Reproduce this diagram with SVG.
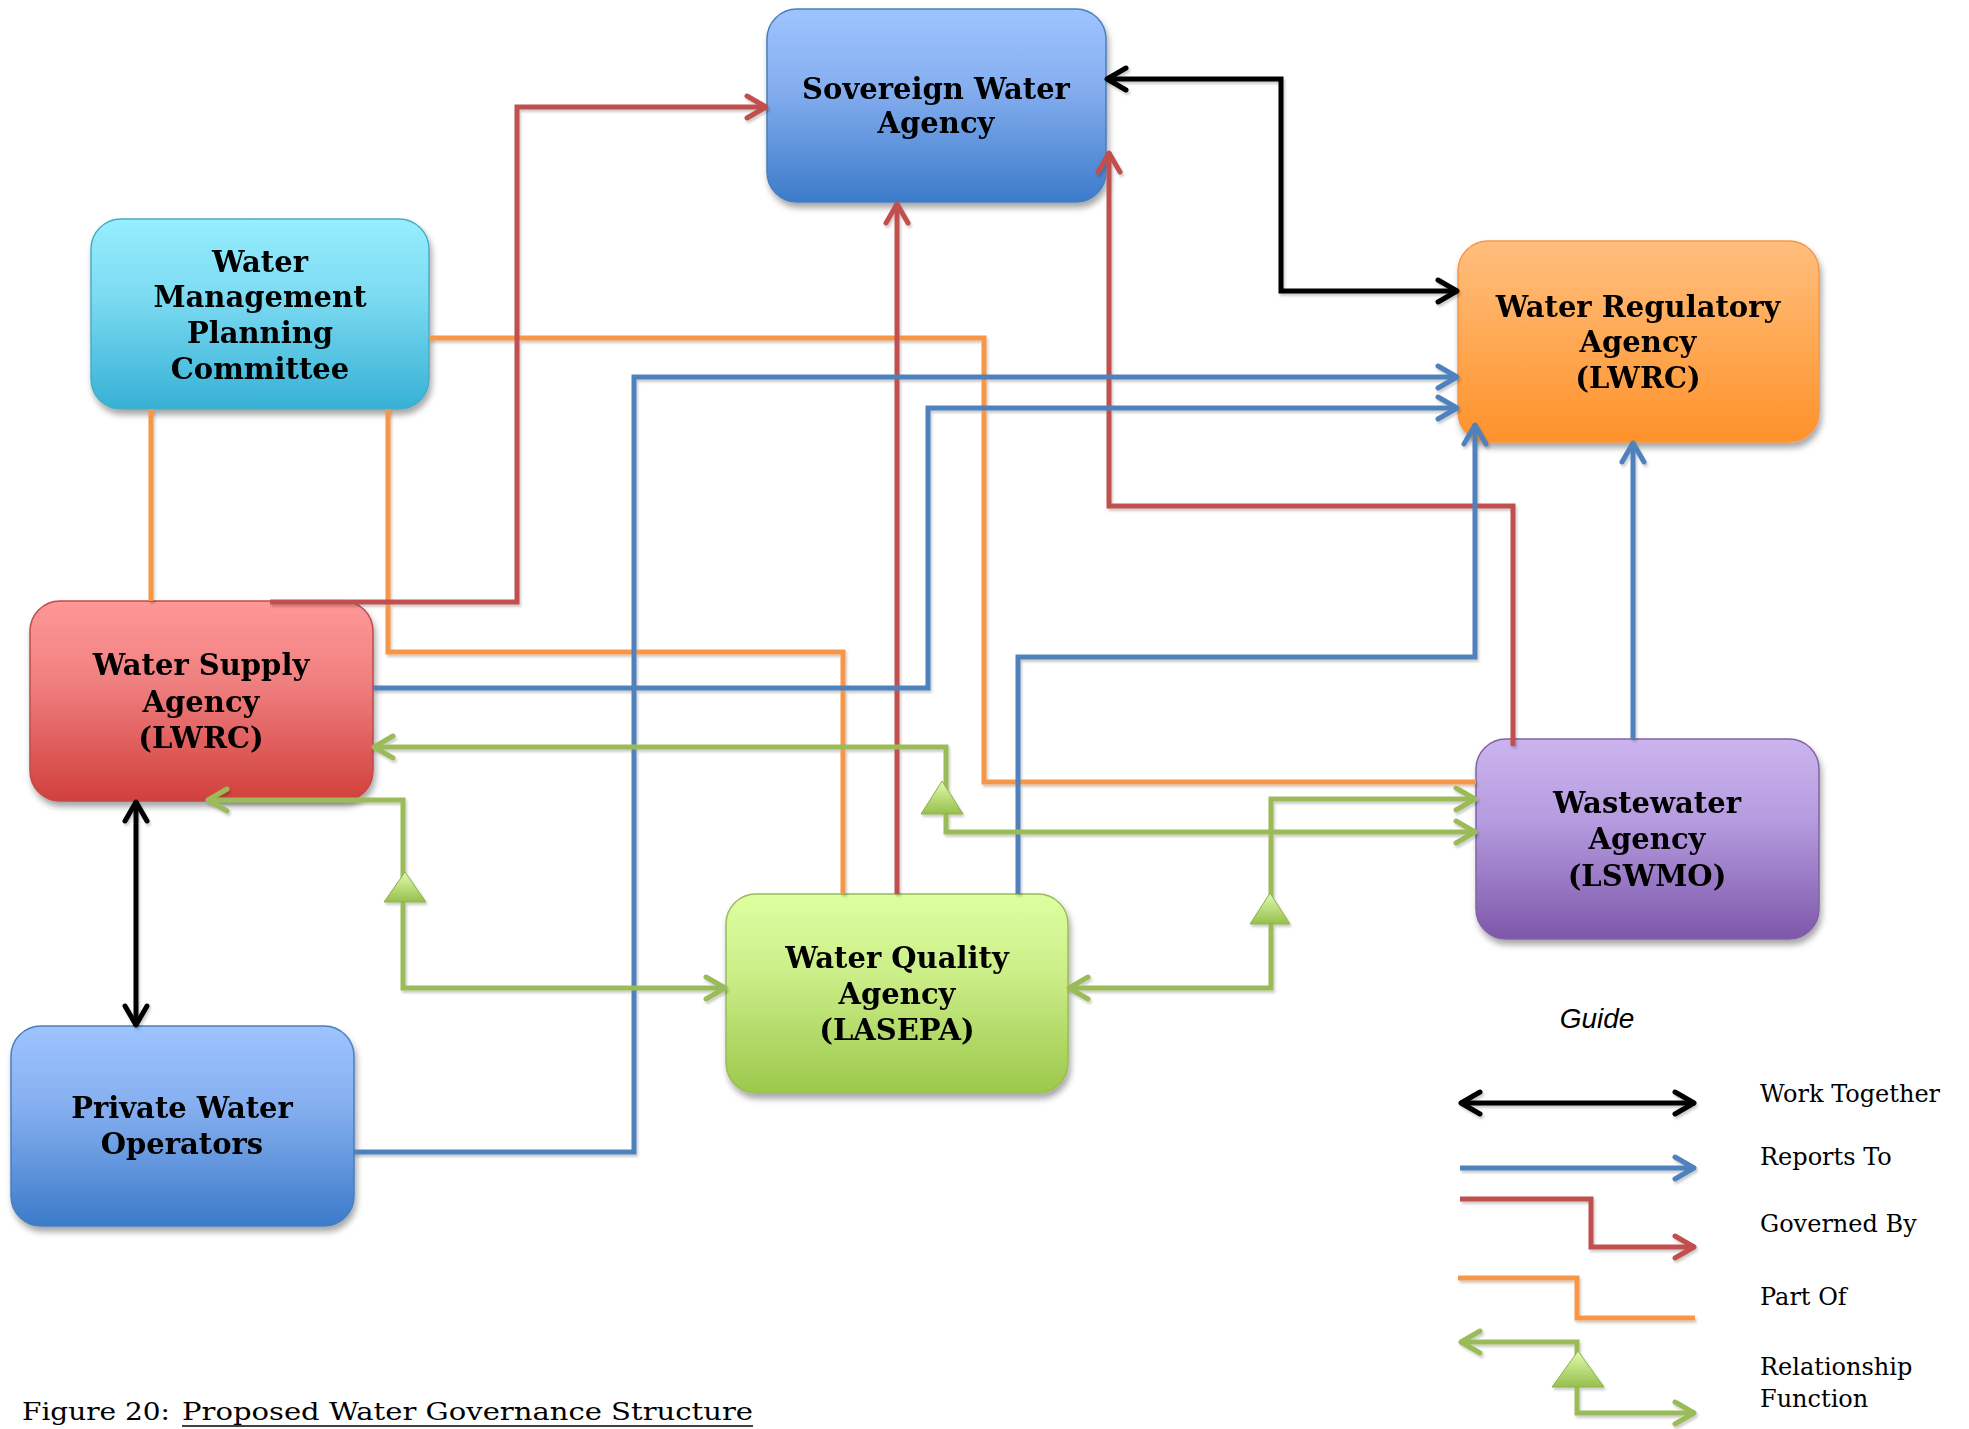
<svg xmlns="http://www.w3.org/2000/svg" width="1969" height="1429" viewBox="0 0 1969 1429">
<style>
.lbl{font-family:"DejaVu Serif","Liberation Serif",serif;font-weight:bold;font-size:29px;text-anchor:middle;fill:#000}
.leg{font-family:"DejaVu Serif","Liberation Serif",serif;font-size:24px;fill:#000}
.box{stroke-width:1.5}
.c{fill:none;stroke-width:5;stroke-linejoin:miter}
.blk{stroke:#000}
.red{stroke:#C0504D}
.blu{stroke:#4F81BD}
.org{stroke:#F79646}
.grn{stroke:#9BBB59}
.tri{fill:url(#gTri);stroke:#8DB04A;stroke-width:1}
</style>
<defs>
<filter id="sh" x="-10%" y="-10%" width="125%" height="130%">
<feDropShadow dx="2" dy="5" stdDeviation="3" flood-color="#000" flood-opacity="0.35"/>
</filter>
<filter id="lsh" x="-5%" y="-5%" width="110%" height="110%">
<feDropShadow dx="1.5" dy="2.5" stdDeviation="1.2" flood-color="#000" flood-opacity="0.2"/>
</filter>
<linearGradient id="gBlue" x1="0" y1="0" x2="0" y2="1"><stop offset="0" stop-color="#9EC4FF"/><stop offset="0.4" stop-color="#86AFF0"/><stop offset="1" stop-color="#3C7BCA"/></linearGradient>
<linearGradient id="gCyan" x1="0" y1="0" x2="0" y2="1"><stop offset="0" stop-color="#96EEFE"/><stop offset="0.4" stop-color="#7DDBF2"/><stop offset="1" stop-color="#36B1D5"/></linearGradient>
<linearGradient id="gOrg" x1="0" y1="0" x2="0" y2="1"><stop offset="0" stop-color="#FFBE7E"/><stop offset="0.4" stop-color="#FFAD5C"/><stop offset="1" stop-color="#FE922B"/></linearGradient>
<linearGradient id="gRed" x1="0" y1="0" x2="0" y2="1"><stop offset="0" stop-color="#FF9797"/><stop offset="0.4" stop-color="#F08080"/><stop offset="1" stop-color="#D1403C"/></linearGradient>
<linearGradient id="gGrn" x1="0" y1="0" x2="0" y2="1"><stop offset="0" stop-color="#DDFFA1"/><stop offset="0.4" stop-color="#CCEE88"/><stop offset="1" stop-color="#9CC84B"/></linearGradient>
<linearGradient id="gPur" x1="0" y1="0" x2="0" y2="1"><stop offset="0" stop-color="#CBB4EE"/><stop offset="0.4" stop-color="#B69CE0"/><stop offset="1" stop-color="#7D57AB"/></linearGradient>
<linearGradient id="gTri" x1="0" y1="0" x2="0" y2="1"><stop offset="0" stop-color="#E0FBAE"/><stop offset="1" stop-color="#97C04C"/></linearGradient>
<marker id="mBlk" viewBox="-25 -15 30 30" refX="0" refY="0" markerWidth="30" markerHeight="30" markerUnits="userSpaceOnUse" orient="auto-start-reverse"><path d="M-20,-11 L-1,0 L-20,11" fill="none" stroke="#000" stroke-width="5" stroke-linecap="round" stroke-linejoin="round"/></marker>
<marker id="mRed" viewBox="-25 -15 30 30" refX="0" refY="0" markerWidth="30" markerHeight="30" markerUnits="userSpaceOnUse" orient="auto-start-reverse"><path d="M-20,-11 L-1,0 L-20,11" fill="none" stroke="#C0504D" stroke-width="5" stroke-linecap="round" stroke-linejoin="round"/></marker>
<marker id="mBlu" viewBox="-25 -15 30 30" refX="0" refY="0" markerWidth="30" markerHeight="30" markerUnits="userSpaceOnUse" orient="auto-start-reverse"><path d="M-20,-11 L-1,0 L-20,11" fill="none" stroke="#4F81BD" stroke-width="5" stroke-linecap="round" stroke-linejoin="round"/></marker>
<marker id="mGrn" viewBox="-25 -15 30 30" refX="0" refY="0" markerWidth="30" markerHeight="30" markerUnits="userSpaceOnUse" orient="auto-start-reverse"><path d="M-20,-11 L-1,0 L-20,11" fill="none" stroke="#9BBB59" stroke-width="5" stroke-linecap="round" stroke-linejoin="round"/></marker>
</defs>
<rect width="1969" height="1429" fill="#fff"/>

<g id="node-sovereign" filter="url(#sh)">
<rect class="box" x="767" y="9" width="339" height="193" rx="30" fill="url(#gBlue)" stroke="#4A7EBB"/>
<text class="lbl" x="936" y="99">Sovereign Water</text>
<text class="lbl" x="936" y="133">Agency</text>
</g>
<g id="node-wmpc" filter="url(#sh)">
<rect class="box" x="91" y="219" width="338" height="190" rx="30" fill="url(#gCyan)" stroke="#4BACC6"/>
<text class="lbl" x="260" y="272">Water</text>
<text class="lbl" x="260" y="307">Management</text>
<text class="lbl" x="260" y="343">Planning</text>
<text class="lbl" x="260" y="379">Committee</text>
</g>
<g id="node-regulatory" filter="url(#sh)">
<rect class="box" x="1458" y="241" width="361" height="201" rx="30" fill="url(#gOrg)" stroke="#F79646"/>
<text class="lbl" x="1638" y="317">Water Regulatory</text>
<text class="lbl" x="1638" y="352">Agency</text>
<text class="lbl" x="1638" y="388">(LWRC)</text>
</g>
<g id="node-supply" filter="url(#sh)">
<rect class="box" x="30" y="601" width="343" height="200" rx="30" fill="url(#gRed)" stroke="#BE4B48"/>
<text class="lbl" x="201" y="675">Water Supply</text>
<text class="lbl" x="201" y="712">Agency</text>
<text class="lbl" x="201" y="748">(LWRC)</text>
</g>
<g id="node-quality" filter="url(#sh)">
<rect class="box" x="726" y="894" width="342" height="199" rx="30" fill="url(#gGrn)" stroke="#9BBB59"/>
<text class="lbl" x="897" y="968">Water Quality</text>
<text class="lbl" x="897" y="1004">Agency</text>
<text class="lbl" x="897" y="1040">(LASEPA)</text>
</g>
<g id="node-wastewater" filter="url(#sh)">
<rect class="box" x="1476" y="739" width="343" height="200" rx="30" fill="url(#gPur)" stroke="#8064A2"/>
<text class="lbl" x="1647" y="813">Wastewater</text>
<text class="lbl" x="1647" y="849">Agency</text>
<text class="lbl" x="1647" y="886">(LSWMO)</text>
</g>
<g id="node-private" filter="url(#sh)">
<rect class="box" x="11" y="1026" width="343" height="200" rx="30" fill="url(#gBlue)" stroke="#4A7EBB"/>
<text class="lbl" x="182" y="1118">Private Water</text>
<text class="lbl" x="182" y="1154">Operators</text>
</g>

<g id="connectors" filter="url(#lsh)">
<path class="c org" d="M151,409 V601"/>
<path class="c org" d="M388,409 V652 H843 V894"/>
<path class="c org" d="M429,338 H984 V782 H1476"/>
<path class="c red" d="M270,602 H517 V107 H767" marker-end="url(#mRed)"/>
<path class="c red" d="M897,894 V203" marker-end="url(#mRed)"/>
<path class="c red" d="M1513,746 V506 H1109 V152" marker-end="url(#mRed)"/>
<path class="c blu" d="M354,1152 H634 V377 H1458" marker-end="url(#mBlu)"/>
<path class="c blu" d="M373,688 H928 V408 H1458" marker-end="url(#mBlu)"/>
<path class="c blu" d="M1018,894 V657 H1475 V424" marker-end="url(#mBlu)"/>
<path class="c blu" d="M1633,739 V442" marker-end="url(#mBlu)"/>
<path class="c blk" d="M1106,79 H1281 V291 H1458" marker-start="url(#mBlk)" marker-end="url(#mBlk)"/>
<path class="c blk" d="M136,801 V1026" marker-start="url(#mBlk)" marker-end="url(#mBlk)"/>
<path class="c grn" d="M373,747 H946 V832 H1476" marker-start="url(#mGrn)" marker-end="url(#mGrn)"/>
<path class="c grn" d="M207,800 H403 V988 H726" marker-start="url(#mGrn)" marker-end="url(#mGrn)"/>
<path class="c grn" d="M1068,988 H1271 V799 H1476" marker-start="url(#mGrn)" marker-end="url(#mGrn)"/>
<path class="tri" d="M942,781 L963,814 L921,814 Z"/>
<path class="tri" d="M405,872 L426,902 L384,902 Z"/>
<path class="tri" d="M1270,893 L1290,924 L1250,924 Z"/>
</g>

<g id="legend">
<text x="1597" y="1028" font-family="'Liberation Sans',Arial,sans-serif" font-style="italic" font-size="28" text-anchor="middle">Guide</text>
<g filter="url(#lsh)">
<path class="c blk" d="M1460,1103 H1695" marker-start="url(#mBlk)" marker-end="url(#mBlk)"/>
<path class="c blu" d="M1460,1168 H1695" marker-end="url(#mBlu)"/>
<path class="c red" d="M1460,1199 H1591 V1247 H1695" marker-end="url(#mRed)"/>
<path class="c org" d="M1458,1278 H1577 V1318 H1695"/>
<path class="c grn" d="M1460,1342 H1577 V1413 H1695" marker-start="url(#mGrn)" marker-end="url(#mGrn)"/>
<path class="tri" d="M1578,1351 L1604,1387 L1552,1387 Z"/>
</g>
<text class="leg" x="1760" y="1102">Work Together</text>
<text class="leg" x="1760" y="1165">Reports To</text>
<text class="leg" x="1760" y="1232">Governed By</text>
<text class="leg" x="1760" y="1305">Part Of</text>
<text class="leg" x="1760" y="1375">Relationship</text>
<text class="leg" x="1760" y="1407">Function</text>
</g>

<g id="caption">
<text class="leg" x="22" y="1420" font-size="25" textLength="148" lengthAdjust="spacingAndGlyphs">Figure 20:</text>
<text class="leg" x="182" y="1420" font-size="25" textLength="571" lengthAdjust="spacingAndGlyphs">Proposed Water Governance Structure</text>
<line x1="182" y1="1426" x2="753" y2="1426" stroke="#000" stroke-width="1.5"/>
</g>
</svg>
